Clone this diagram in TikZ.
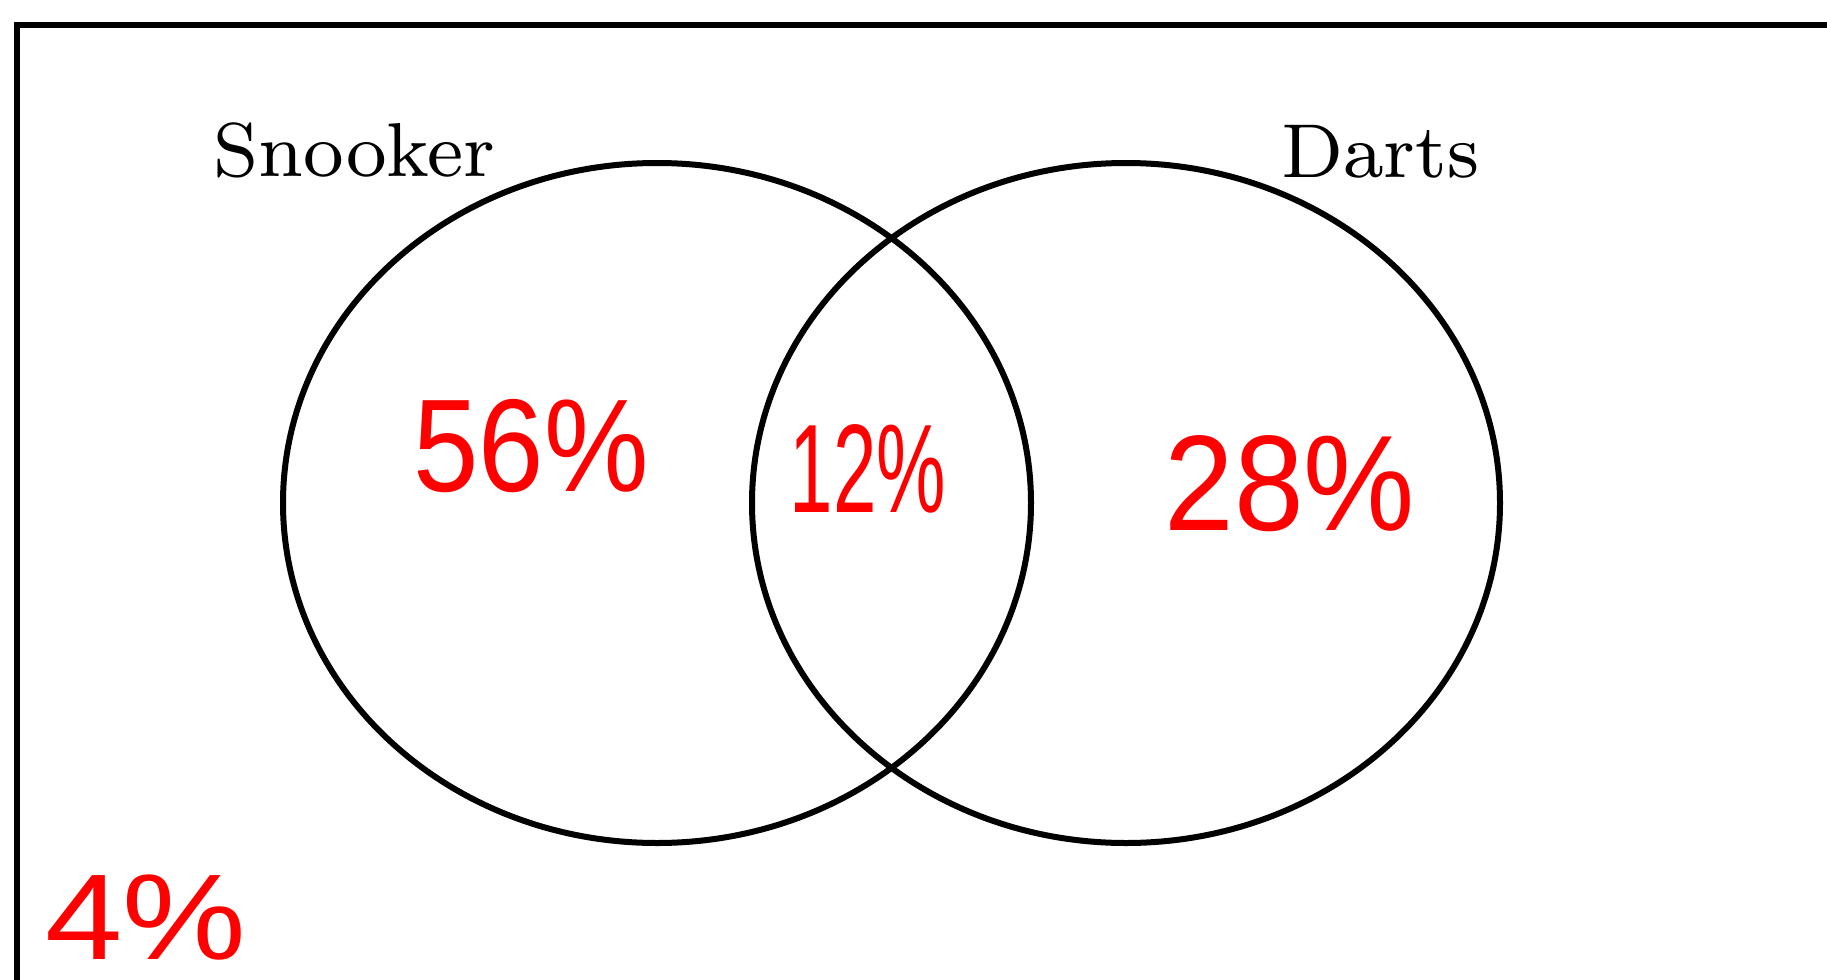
\documentclass[tikz,border=0pt]{standalone}
\usepackage{fontspec}
\usepackage{graphicx}
\newfontfamily\hand{Liberation Sans}
\newfontfamily\lmeight{lmroman8-regular.otf}
\usetikzlibrary{shapes.geometric}
\tikzset{
  venn/.style={ellipse, draw=black, line width=3pt, minimum width=374pt, minimum height=340pt, inner sep=0pt},
  setlabel/.style={inner sep=0pt, font=\lmeight\fontsize{38.2}{44}\selectfont},
  handlabel/.style={inner sep=0pt, text=red},
  frame/.style={draw=black, line width=2.6pt}
}
\begin{document}
\begin{tikzpicture}[x=0.5pt,y=-0.5pt]
\clip (0,0) rectangle (1827,980);
\fill[white] (0,0) rectangle (1827,980);
\draw[frame] (17,25) rectangle (1900,1050);
\node[venn] (snooker) at (657,503) {};
\node[venn] (darts) at (1126,503) {};
\node[setlabel, anchor=base west] (snookerlab) at (213,176) {Snooker};
\node[setlabel, anchor=base west] (dartslab) at (1281,177) {Darts};
\node[handlabel] (only snooker) at (531,446) {\scalebox{0.89}[1]{\hand\fontsize{66}{70}\selectfont 56\%}};
\node[handlabel] (both) at (868,469) {\scalebox{0.62}[1]{\hand\fontsize{63}{70}\selectfont 12\%}};
\node[handlabel] (only darts) at (1290,484) {\scalebox{0.92}[1]{\hand\fontsize{68}{70}\selectfont 28\%}};
\node[handlabel] (neither) at (146,918) {\scalebox{1.14}[1]{\hand\fontsize{61}{70}\selectfont 4\%}};
\end{tikzpicture}
\end{document}
